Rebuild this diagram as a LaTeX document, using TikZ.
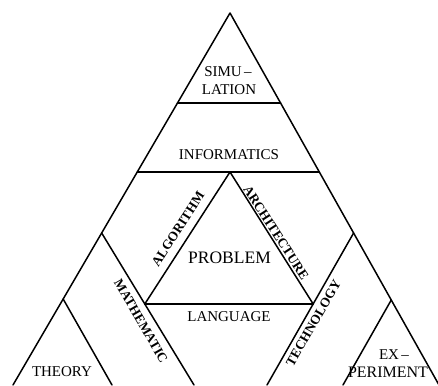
\documentclass[tikz,border=0pt]{standalone}
\usepackage{fontspec}
\setmainfont{Liberation Serif}
\usetikzlibrary{calc}
\begin{document}
\begin{tikzpicture}[x=1pt,y=-1pt,
  edge/.style={line width=1.5pt,line cap=round,line join=round},
  lbl/.style={inner sep=0pt,font=\fontsize{15}{18}\selectfont},
  biglbl/.style={inner sep=0pt,font=\fontsize{17.5}{20}\selectfont},
  sidelbl/.style={inner sep=0pt,font=\bfseries\fontsize{13.3}{16}\selectfont}]
\useasboundingbox (0,0) rectangle (438,385);
\clip (0,0) rectangle (438,385);
% outer triangle
\coordinate (A) at (230,13);
\coordinate (BL) at (13,385);
\coordinate (BR) at (439,385);
\draw[edge] (BL) -- (A) -- (BR);
% horizontal bands
\coordinate (S1) at ($(A)!0.242!(BL)$);
\coordinate (S2) at ($(A)!0.242!(BR)$);
\draw[edge] (S1) -- (S2);
\coordinate (I1) at ($(A)!0.4274!(BL)$);
\coordinate (I2) at ($(A)!0.4274!(BR)$);
\draw[edge] (I1) -- (I2);
% mathematic and technology lines
\coordinate (M1) at ($(A)!0.5914!(BL)$);
\coordinate (MB) at (194,385);
\coordinate (T1) at ($(A)!0.5914!(BR)$);
\coordinate (TB) at (267,385);
\draw[edge] (M1) -- (MB);
\draw[edge] (T1) -- (TB);
% inner triangle
\coordinate (P) at (230,172);
\coordinate (IL) at ($(M1)!0.467!(MB)$);
\coordinate (IR) at ($(T1)!0.467!(TB)$);
\draw[edge] (IL) -- (P) -- (IR);
\draw[edge] (IL) -- (IR);
% theory and experiment lines
\coordinate (TH1) at ($(A)!0.7688!(BL)$);
\coordinate (THB) at (112,385);
\coordinate (EX1) at ($(A)!0.7715!(BR)$);
\coordinate (EXB) at (343,385);
\draw[edge] (TH1) -- (THB);
\draw[edge] (EX1) -- (EXB);
% labels
\node[lbl] (sim1) at (228,72) {SIMU\,–};
\node[lbl] (sim2) at (229,90) {LATION};
\node[lbl] (inf) at (229,155) {INFORMATICS};
\node[biglbl] (prob) at (229.5,258) {PROBLEM};
\node[lbl] (lang) at (229,317) {LANGUAGE};
\node[lbl] (theo) at (62,372) {THEORY};
\node[lbl] (exp1) at (394,355) {EX\,–};
\node[lbl,font=\fontsize{16}{18}\selectfont] (exp2) at (388,372) {PERIMENT};
\node[sidelbl,rotate=57] (alg) at (178,229) {ALGORITHM};
\node[sidelbl,rotate=-57] (arch) at (276,233) {ARCHITECTURE};
\node[sidelbl,rotate=-60] (math) at (141,321) {MATHEMATIC};
\node[sidelbl,rotate=60] (tech) at (313.5,323) {TECHNOLOGY};
\end{tikzpicture}
\end{document}
